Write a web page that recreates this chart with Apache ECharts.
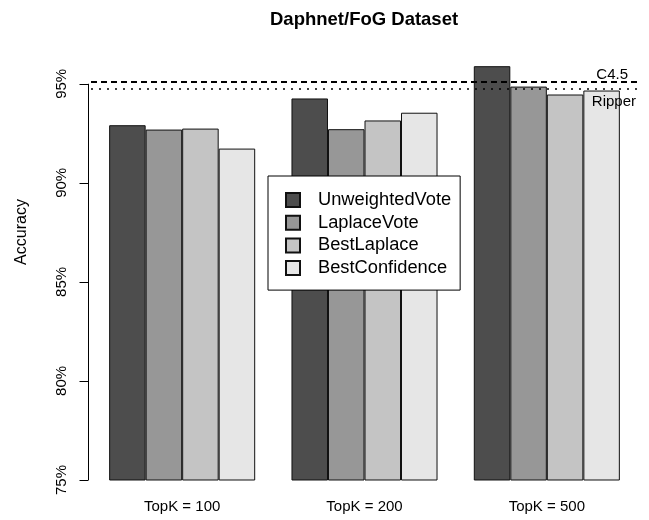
<!DOCTYPE html>
<html>
<head>
<meta charset="utf-8">
<script src="https://cdn.jsdelivr.net/npm/echarts@6/dist/echarts.min.js"></script>
<style>
  html, body { margin: 0; padding: 0; background: #fff; }
  #chart { width: 649px; height: 520px; }
</style>
</head>
<body>
<div id="chart"></div>
<script>
// 各分组与方法
const categories = ['TopK = 100', 'TopK = 200', 'TopK = 500'];
const methods = ['UnweightedVote', 'LaplaceVote', 'BestLaplace', 'BestConfidence'];
const unweightedVote = [92.91, 94.26, 95.89];
const laplaceVote = [92.69, 92.71, 94.86];
const bestLaplace = [92.74, 93.15, 94.46];
const bestConfidence = [91.73, 93.54, 94.66];
const c45 = 95.1;
const ripper = 94.76;
const yTicks = [75, 80, 85, 90, 95];

const colors = ['#4d4d4d', '#979797', '#c4c4c4', '#e6e6e6'];
const font = 'Liberation Sans';

const myChart = echarts.init(document.getElementById('chart'));
const values = [unweightedVote, laplaceVote, bestLaplace, bestConfidence];

const series = methods.map((name, i) => ({
  name: name,
  type: 'bar',
  barGap: 0,
  barCategoryGap: '19.9%',
  itemStyle: {color: colors[i], borderColor: '#111', borderWidth: 1},
  emphasis: {disabled: true},
  data: values[i]
}));

// 参考线 C4.5 / Ripper
series[3].markLine = {
  silent: true,
  symbol: 'none',
  z: 10,
  data: [{
    yAxis: c45,
    lineStyle: {type: [6, 4], width: 2, color: '#000'},
    label: {
      show: true, formatter: 'C4.5', position: 'insideEndTop', distance: [10, -1],
      color: '#000', fontFamily: font, fontSize: 15
    }
  }, {
    yAxis: ripper,
    lineStyle: {type: [2, 6], width: 1.6, color: '#000'},
    label: {
      show: true, formatter: 'Ripper', position: 'insideEndBottom', distance: [2, 6],
      color: '#000', fontFamily: font, fontSize: 15
    }
  }]
};

const option = {
  animation: false,
  title: {
    text: 'Daphnet/FoG Dataset',
    left: 265,
    top: 5,
    textStyle: {fontFamily: font, fontSize: 18.5, fontWeight: 'bold', color: '#000'}
  },
  legend: {
    orient: 'vertical',
    left: 268,
    top: 176,
    padding: [15, 9, 13, 17],
    itemWidth: 14,
    itemHeight: 14,
    itemGap: 4.7,
    borderColor: '#000',
    borderWidth: 1,
    backgroundColor: '#fff',
    selectedMode: false,
    icon: 'rect',
    textStyle: {fontFamily: font, fontSize: 18.3, color: '#000', padding: [0, 0, 0, 13]},
    data: methods
  },
  grid: {left: 91, right: 11, top: 64, bottom: 40},
  xAxis: {
    type: 'category',
    data: categories,
    axisLine: {show: false},
    axisTick: {show: false},
    axisLabel: {fontFamily: font, fontSize: 15, color: '#000', margin: 19}
  },
  yAxis: {
    type: 'value',
    min: 75,
    max: 96,
    interval: 5,
    offset: 2.5,
    splitLine: {show: false},
    axisLine: {show: false},
    axisTick: {show: true, length: 9, customValues: yTicks, lineStyle: {color: '#000'}},
    axisLabel: {
      rotate: 90,
      margin: 19,
      fontFamily: font,
      fontSize: 15,
      color: '#000',
      customValues: yTicks,
      formatter: '{value}%'
    }
  },
  series: series
};

myChart.setOption(option);

// 轴线只画在 75% 到 95% 之间
const yLow = myChart.convertToPixel({yAxisIndex: 0}, yTicks[0]);
const yHigh = myChart.convertToPixel({yAxisIndex: 0}, yTicks[yTicks.length - 1]);
const axisX = 91 - 2.5;
myChart.setOption({
  graphic: [{
    type: 'line',
    shape: {x1: axisX, y1: yLow, x2: axisX, y2: yHigh},
    style: {stroke: '#000', lineWidth: 1}
  }, {
    type: 'text',
    x: 22,
    y: 232,
    rotation: Math.PI / 2,
    style: {
      text: 'Accuracy', align: 'center', verticalAlign: 'middle',
      fontFamily: font, fontSize: 16, fill: '#000'
    }
  }]
});
</script>
</body>
</html>
